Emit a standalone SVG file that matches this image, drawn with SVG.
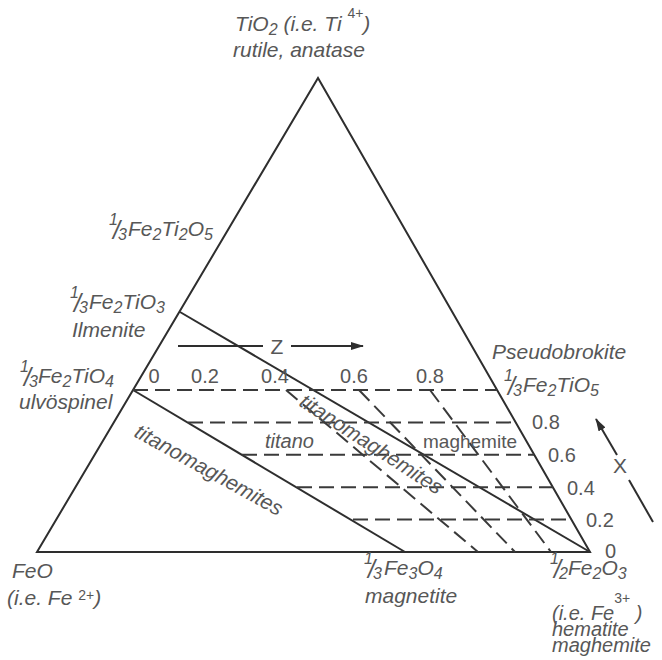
<svg xmlns="http://www.w3.org/2000/svg" width="662" height="660" viewBox="0 0 662 660">
<style>
text{font-family:"Liberation Sans",Arial,sans-serif;fill:#575757}
.it{font-style:italic;font-size:21px}
.num{font-size:20px}
.s{font-size:16px}
.sl{font-size:25px}
.sup{font-size:14px}
.solid{fill:none;stroke:#2e2e2e;stroke-width:2}
.dash{fill:none;stroke:#3a3a3a;stroke-width:2;stroke-dasharray:15 7}
</style>
<defs>
<marker id="ah" viewBox="0 0 13 8" refX="12" refY="4" markerWidth="13" markerHeight="8" orient="auto" markerUnits="userSpaceOnUse">
<path d="M0,0 L13,4 L0,8 z" fill="#2e2e2e"/>
</marker>
</defs>
<rect width="662" height="660" fill="#fff"/>

<g id="connectors">
<polygon id="frame" class="solid" points="37,552 318,78 590,552" stroke-linejoin="miter"/>
<line class="solid" x1="180" y1="312" x2="590" y2="552"/>
<line class="solid" x1="133" y1="390" x2="405" y2="552"/>
<line class="dash" x1="133" y1="390" x2="497" y2="390"/>
<line class="dash" x1="188" y1="422.4" x2="516" y2="422.4"/>
<line class="dash" x1="242" y1="454.8" x2="534" y2="454.8"/>
<line class="dash" x1="297" y1="487.2" x2="553" y2="487.2"/>
<line class="dash" x1="353" y1="519.6" x2="571" y2="519.6"/>
<line class="dash" x1="286" y1="390" x2="478" y2="552"/>
<line class="dash" x1="359" y1="390" x2="515" y2="552"/>
<line class="dash" x1="430" y1="390" x2="551" y2="552"/>
<line class="solid" x1="178" y1="346" x2="263" y2="346"/>
<line class="solid" x1="291" y1="346" x2="363" y2="346" marker-end="url(#ah)"/>
<line class="solid" x1="653" y1="522" x2="629" y2="480"/>
<line class="solid" x1="617" y1="455" x2="596" y2="419" marker-end="url(#ah)"/>
</g>

<g id="tio2">
<text class="it" x="235" y="31">TiO<tspan class="s" dy="4">2</tspan><tspan dy="-4"> (i.e. Ti </tspan><tspan class="sup" dy="-13" font-style="normal">4+</tspan><tspan dy="13">)</tspan></text>
<text class="it" x="233" y="57">rutile, anatase</text>
</g>

<g id="fe2ti2o5">
<text class="it" y="236"><tspan class="s" x="109" dy="-11">1</tspan><tspan class="sl" x="113" dy="14">/</tspan><tspan class="s" x="118" dy="1">3</tspan><tspan x="128" dy="-4">Fe</tspan><tspan class="s" dy="4">2</tspan><tspan dy="-4">Ti</tspan><tspan class="s" dy="4">2</tspan><tspan dy="-4">O</tspan><tspan class="s" dy="4">5</tspan></text>
</g>

<g id="ilmenite">
<text class="it" y="309"><tspan class="s" x="70" dy="-11">1</tspan><tspan class="sl" x="74" dy="14">/</tspan><tspan class="s" x="79" dy="1">3</tspan><tspan x="89" dy="-4">Fe</tspan><tspan class="s" dy="4">2</tspan><tspan dy="-4">TiO</tspan><tspan class="s" dy="4">3</tspan></text>
<text class="it" x="72" y="337">Ilmenite</text>
</g>

<g id="ulvospinel">
<text class="it" y="383"><tspan class="s" x="20" dy="-11">1</tspan><tspan class="sl" x="24" dy="14">/</tspan><tspan class="s" x="29" dy="1">3</tspan><tspan x="38" dy="-4">Fe</tspan><tspan class="s" dy="4">2</tspan><tspan dy="-4">TiO</tspan><tspan class="s" dy="4">4</tspan></text>
<text class="it" x="19" y="409">ulvöspinel</text>
</g>

<g id="feo">
<text class="it" x="12" y="578">FeO</text>
<text class="it" x="7" y="605">(i.e. Fe <tspan class="sup" dy="-5" font-style="normal">2+</tspan><tspan dy="5">)</tspan></text>
</g>

<g id="magnetite">
<text class="it" y="575"><tspan class="s" x="364" dy="-11">1</tspan><tspan class="sl" x="368" dy="14">/</tspan><tspan class="s" x="373" dy="1">3</tspan><tspan x="384" dy="-4">Fe</tspan><tspan class="s" dy="4">3</tspan><tspan dy="-4">O</tspan><tspan class="s" dy="4">4</tspan></text>
<text class="it" x="365" y="603">magnetite</text>
</g>

<g id="hematite">
<text class="it" y="575"><tspan class="s" x="550" dy="-11">1</tspan><tspan class="sl" x="554" dy="14">/</tspan><tspan class="s" x="559" dy="1">2</tspan><tspan x="568" dy="-4">Fe</tspan><tspan class="s" dy="4">2</tspan><tspan dy="-4">O</tspan><tspan class="s" dy="4">3</tspan></text>
<text class="it" x="552" y="620" style="font-size:20px">(i.e. Fe<tspan class="sup" dy="-17" font-style="normal">3+</tspan><tspan dy="17"> )</tspan></text>
<text class="it" x="552" y="636" style="font-size:20px">hematite</text>
<text class="it" x="552" y="652" style="font-size:20px">maghemite</text>
</g>

<g id="pseudobrookite">
<text class="it" x="492" y="359">Pseudobrokite</text>
<text class="it" y="392"><tspan class="s" x="504" dy="-11">1</tspan><tspan class="sl" x="508" dy="14">/</tspan><tspan class="s" x="513" dy="1">3</tspan><tspan x="523" dy="-4">Fe</tspan><tspan class="s" dy="4">2</tspan><tspan dy="-4">TiO</tspan><tspan class="s" dy="4">5</tspan></text>
</g>

<g id="z-scale">
<text class="num" x="154" y="383" text-anchor="middle">0</text>
<text class="num" x="205" y="383" text-anchor="middle">0.2</text>
<text class="num" x="275" y="383" text-anchor="middle">0.4</text>
<text class="num" x="354" y="383" text-anchor="middle">0.6</text>
<text class="num" x="430" y="383" text-anchor="middle">0.8</text>
<text x="277" y="354" font-size="21" text-anchor="middle">Z</text>
</g>

<g id="x-scale">
<text class="num" x="532" y="429">0.8</text>
<text class="num" x="548" y="462">0.6</text>
<text class="num" x="567" y="495">0.4</text>
<text class="num" x="586" y="527">0.2</text>
<text class="num" x="605" y="558">0</text>
<text x="620" y="473" font-size="21" text-anchor="middle">X</text>
</g>

<g id="fields">
<text class="it" font-size="20" transform="translate(133,436) rotate(29)">titanomaghemites</text>
<text class="it" font-size="20" transform="translate(298,405) rotate(33)">titanomaghemites</text>
<text class="it" x="265" y="448" style="font-size:20px">titano</text>
<text x="423" y="448" font-size="19">maghemite</text>
</g>
</svg>
